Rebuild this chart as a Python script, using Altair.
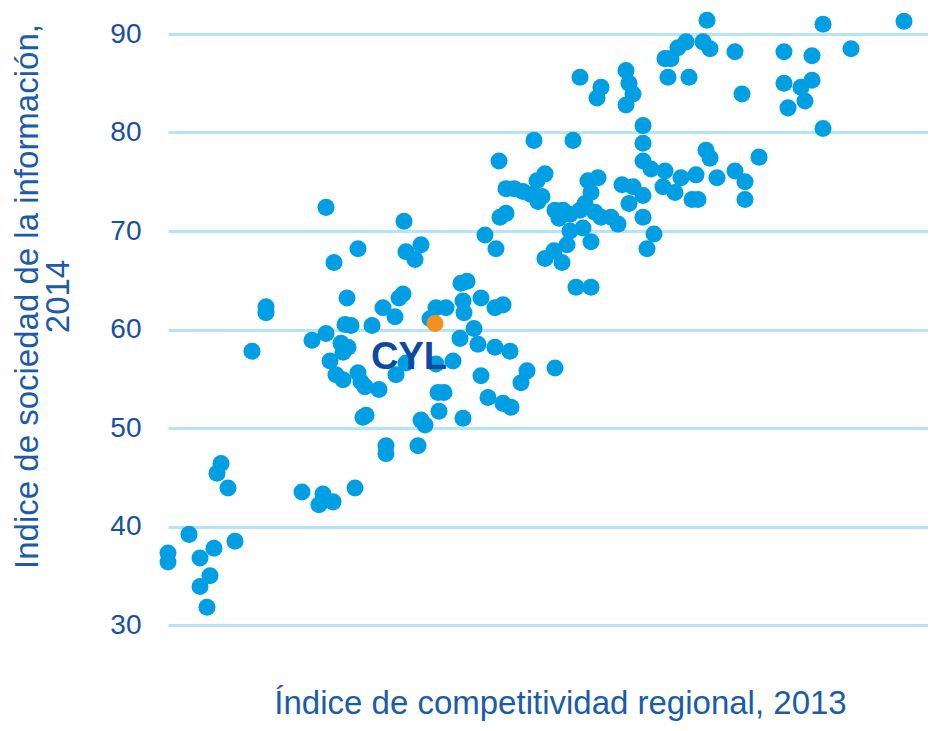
import altair as alt
import pandas as pd

# Índice de competitividad regional 2013 (arbitrary 0-76 scale, axis hidden) and
# Índice de sociedad de la información 2014 for each region
comp_idx = [
    0.0, 0.0, 2.1, 3.2, 4.6, 6.7, 4.2, 3.2, 3.9, 5.3, 4.9, 6.0,
    13.4, 15.5, 15.1, 16.5, 18.7, 21.8, 21.8, 25.0, 9.8, 9.8, 8.4,
    15.8, 23.6, 19.0, 16.6, 23.8, 25.3, 24.7, 17.9, 23.5, 23.1, 21.5, 22.7,
    26.8, 27.8, 26.2, 17.7, 18.3, 20.4, 14.4, 15.8, 17.3, 18.0, 17.5, 16.2,
    16.8, 17.5, 19.0, 19.3, 19.7, 21.1, 22.8, 23.8, 26.8, 28.5, 29.2,
    27.0, 27.6, 27.1, 19.8, 19.5, 25.3, 25.7, 29.5,
    29.3, 29.9, 29.5, 29.6, 31.3, 32.7, 33.5, 30.6, 31.0, 32.7, 34.2, 31.3,
    38.7, 35.9, 35.3, 32.0, 33.5, 34.3,
    31.7, 32.8, 33.1, 36.6, 40.5, 33.8, 34.6, 35.5, 36.3, 37.0, 37.7, 36.9, 37.4,
    33.2, 33.8, 37.7, 38.7, 39.5, 39.1, 40.2, 41.2, 41.7, 42.7, 43.3, 44.3, 45.0,
    40.2, 41.5, 39.9, 38.6, 39.4, 42.3, 40.8, 42.3, 42.0, 43.0, 42.3,
    45.4, 46.5, 47.5, 46.1, 47.5, 48.6, 47.9, 47.5, 47.5, 47.5, 48.3, 49.7, 49.5,
    50.7, 51.3, 52.8, 53.8, 54.2, 54.9, 56.7, 57.7, 57.7, 59.1, 52.4, 53.0,
    53.9, 51.8, 51.0, 49.7, 50.3, 53.5, 54.2, 56.7, 50.0, 52.1, 41.2, 43.3, 42.9,
    45.8, 46.1, 46.5, 45.8, 57.4, 61.6, 64.4, 68.3, 65.5, 73.6,
    61.6, 63.3, 64.4, 63.7, 62.0, 65.5,
]
soc_idx = [
    37.3, 36.4, 39.2, 36.8, 37.8, 38.5, 35.0, 33.9, 31.8, 46.4, 45.4, 43.9,
    43.5, 43.3, 42.2, 42.5, 43.9, 48.2, 47.4, 48.2, 62.3, 61.7, 57.8,
    72.4, 71.0, 68.2, 66.8, 67.9, 68.6, 67.1, 63.2, 63.6, 63.2, 62.2, 61.3,
    62.2, 62.2, 61.1, 60.5, 60.4, 60.4, 58.9, 59.6, 58.6, 58.2, 57.7, 56.8,
    55.4, 54.9, 55.6, 54.7, 54.2, 53.9, 55.4, 56.6, 56.5, 56.8, 59.1,
    53.6, 53.6, 51.7, 51.3, 51.1, 50.8, 50.3, 51.0,
    64.7, 64.9, 62.9, 61.7, 63.2, 62.2, 62.5, 60.1, 58.5, 58.2, 57.8, 55.3,
    56.1, 55.8, 54.6, 53.1, 52.5, 52.1,
    69.6, 68.2, 77.1, 79.2, 79.2, 74.3, 74.3, 74.0, 73.7, 73.0, 75.8, 75.1, 73.5,
    71.4, 71.8, 67.2, 72.1, 72.1, 71.3, 71.7, 72.1, 72.8, 71.9, 71.4, 71.4, 70.7,
    70.0, 70.3, 68.6, 68.0, 66.8, 68.9, 64.3, 64.3, 75.1, 75.4, 73.9,
    74.7, 74.5, 73.6, 72.8, 71.4, 69.7, 68.2, 80.7, 78.9, 77.1, 76.3, 76.1, 74.5,
    73.9, 75.4, 75.7, 78.2, 77.4, 75.4, 76.1, 75.0, 73.2, 77.5, 73.2, 73.2,
    91.4, 89.2, 88.6, 87.5, 87.5, 89.2, 88.5, 88.2, 85.6, 85.6, 85.6, 84.6, 83.5,
    86.3, 85.0, 83.9, 82.8, 83.9, 88.2, 87.8, 88.5, 91.0, 91.3,
    85.0, 84.6, 85.3, 83.2, 82.5, 80.4,
]

# Castilla y León
cyl_comp = [26.7]
cyl_soc = [60.6]
cyl_label = ["CYL"]

df = pd.DataFrame({"comp": comp_idx, "soc": soc_idx})
df_cyl = pd.DataFrame({"comp": cyl_comp, "soc": cyl_soc, "label": cyl_label})

FONT = "Liberation Sans"

x_enc = alt.X(
    "comp:Q",
    scale=alt.Scale(domain=[0, 76], nice=False, zero=False),
    axis=alt.Axis(
        title="Índice de competitividad regional, 2013",
        labels=False, ticks=False, domain=False, grid=False,
        titleFontSize=33, titleFont=FONT, titleFontWeight="normal",
        titleColor="#1B5BAA", titleX=392, titleY=88,
        titleBaseline="alphabetic", titleAlign="center",
    ),
)
y_enc = alt.Y(
    "soc:Q",
    scale=alt.Scale(domain=[30, 90], nice=False, zero=False),
    axis=alt.Axis(
        title=["Indice de sociedad de la información,", "2014"],
        values=[30, 40, 50, 60, 70, 80, 90],
        ticks=False, domain=False,
        grid=True, gridColor="#B5E3F7", gridWidth=3,
        labelFontSize=28, labelFont=FONT, labelColor="#1750A3",
        labelPadding=27,
        titleFontSize=33, titleFont=FONT, titleFontWeight="normal",
        titleColor="#1B5BAA", titleLineHeight=31,
        titleAngle=270, titleX=-141, titleY=262,
        titleAlign="center", titleBaseline="middle",
    ),
)

points = alt.Chart(df).mark_circle(size=290, opacity=1, color="#009FE3").encode(
    x=x_enc, y=y_enc
)
cyl_point = alt.Chart(df_cyl).mark_circle(size=290, opacity=1, color="#F39020").encode(
    x="comp:Q", y="soc:Q"
)
cyl_text = alt.Chart(df_cyl).mark_text(
    font=FONT, fontSize=38, fontWeight="bold", color="#0B4A9E",
    align="center", baseline="middle", dx=-26, dy=34,
).encode(x="comp:Q", y="soc:Q", text="label:N")

chart = (
    alt.layer(points, cyl_point, cyl_text)
    .properties(
        width=760, height=591,
        autosize=alt.AutoSizeParams(type="none"),
        padding={"left": 160, "top": 26, "right": 0, "bottom": 100},
    )
    .configure_view(stroke=None)
)

chart.save("out.html", embed_options={"renderer": "svg", "actions": False})
